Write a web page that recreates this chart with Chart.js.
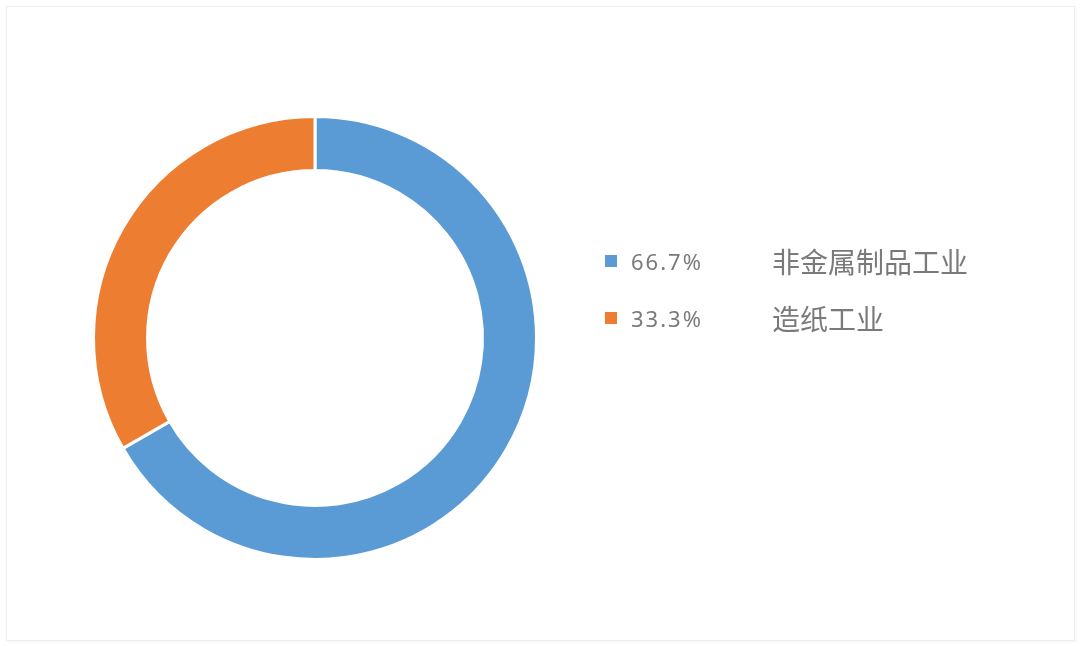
<!DOCTYPE html>
<html>
<head>
<meta charset="utf-8">
<script src="https://cdn.jsdelivr.net/npm/chart.js@4/dist/chart.umd.min.js"></script>
<style>
  html, body { margin: 0; padding: 0; background: #ffffff; }
  #wrap { position: relative; width: 1080px; height: 646px; overflow: hidden; background: #fff; }
  #frame { position: absolute; left: 6px; top: 6px; width: 1067px; height: 633px;
           border: 1px solid #eeeeee; box-shadow: 1px 1px 2px rgba(0,0,0,0.04); }
  #chartBox { position: absolute; left: 0; top: 0; width: 1080px; height: 646px; }
  #legend { position: absolute; left: 605px; top: 232px; }
  .row { display: flex; align-items: center; height: 57px; }
  .sw { width: 12px; height: 12px; margin-right: 14px; }
  .pct { width: 141px; font-family: "Noto Sans", "DejaVu Sans", sans-serif; font-size: 22px;
         color: #7a7a7a; letter-spacing: 2px; }
  .lab { font-family: "Noto Sans CJK SC", sans-serif; font-size: 28px; color: #7a7a7a; }
</style>
</head>
<body>
<div id="wrap">
  <div id="frame"></div>
  <div id="chartBox"><canvas id="c"></canvas></div>
  <div id="legend"></div>
</div>
<script>
const categories = ["非金属制品工业", "造纸工业"];
const values = [66.7, 33.3];
const pctLabels = values.map(v => v.toFixed(1) + "%");

const colors = ["#5B9BD5", "#ED7D31"];

new Chart(document.getElementById("c"), {
  type: "doughnut",
  data: {
    labels: categories,
    datasets: [{
      data: values,
      backgroundColor: colors,
      borderColor: "#ffffff",
      borderWidth: 3,
      hoverOffset: 0
    }]
  },
  options: {
    responsive: true,
    maintainAspectRatio: false,
    animation: false,
    cutout: "75.6%",
    layout: { padding: { left: 92, top: 115, right: 542, bottom: 85 } },
    plugins: {
      legend: { display: false },
      tooltip: { enabled: false }
    }
  }
});

const legend = document.getElementById("legend");
categories.forEach((cat, i) => {
  const row = document.createElement("div");
  row.className = "row";
  const sw = document.createElement("div");
  sw.className = "sw";
  sw.style.background = colors[i];
  const p = document.createElement("span");
  p.className = "pct";
  p.textContent = pctLabels[i];
  const l = document.createElement("span");
  l.className = "lab";
  l.textContent = cat;
  row.appendChild(sw); row.appendChild(p); row.appendChild(l);
  legend.appendChild(row);
});
</script>
</body>
</html>
